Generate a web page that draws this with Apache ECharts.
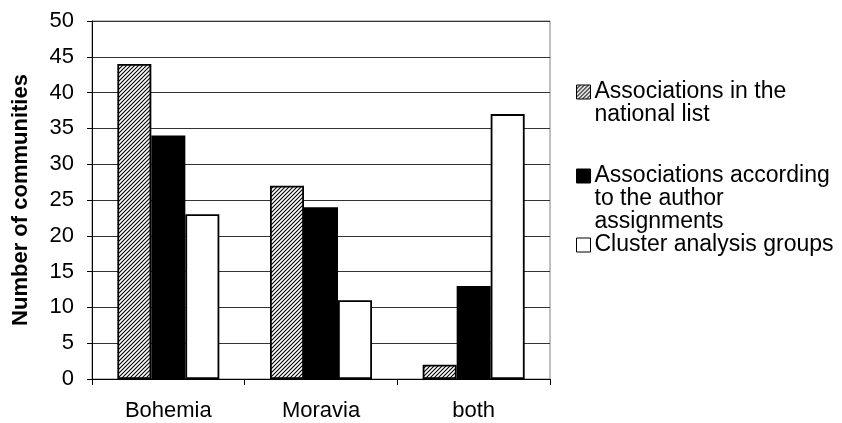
<!DOCTYPE html>
<html>
<head>
<meta charset="utf-8">
<script src="https://cdn.jsdelivr.net/npm/echarts@6/dist/echarts.min.js"></script>
<style>
  html, body { margin: 0; padding: 0; background: #fff; }
  #chart { width: 842px; height: 423px; }
</style>
</head>
<body>
<div id="chart"></div>
<script>
// Regions and community counts per grouping
const categories = ['Bohemia', 'Moravia', 'both'];
const nationalList = [44, 27, 2];
const authorAssignments = [34, 24, 13];
const clusterGroups = [23, 11, 37];
const seriesNames = [
  'Associations in the national list',
  'Associations according to the author assignments',
  'Cluster analysis groups'
];
// Legend wording split over lines
const legendLines = {
  'Associations in the national list': ['Associations in the', 'national list'],
  'Associations according to the author assignments': ['Associations according', 'to the author', 'assignments'],
  'Cluster analysis groups': ['Cluster analysis groups']
};

const FONT = 'Liberation Sans, Arial, sans-serif';

// Diagonal hatch fill
function makeHatch() {
  const c = document.createElement('canvas');
  c.width = 4; c.height = 4;
  const g = c.getContext('2d');
  g.fillStyle = '#ffffff';
  g.fillRect(0, 0, 4, 4);
  g.strokeStyle = '#000000';
  g.lineWidth = 1.1;
  g.beginPath();
  g.moveTo(-1, 5); g.lineTo(5, -1);
  g.moveTo(-1, 1); g.lineTo(1, -1);
  g.moveTo(3, 5); g.lineTo(5, 3);
  g.stroke();
  return c;
}
const hatch = { image: makeHatch(), repeat: 'repeat' };

const chart = echarts.init(document.getElementById('chart'), null, { renderer: 'canvas' });

const barBorder = { borderColor: '#000', borderWidth: 1.8 };

// Pad legend text with blank lines so the icon sits beside the first line
function legendText(name) {
  const lines = legendLines[name];
  const pad = new Array(lines.length - 1).fill('').join('\n');
  return (lines.length > 1 ? pad + '\n' : '') + lines.join('\n');
}

const LH = 23;
function legendFor(name, firstLineY) {
  const n = legendLines[name].length;
  const boxH = (2 * n - 1) * LH;
  return {
    data: [name],
    orient: 'vertical',
    left: 576,
    top: firstLineY - boxH / 2,
    padding: 0,
    itemWidth: 14,
    itemHeight: 14,
    itemGap: 0,
    icon: 'rect',
    itemStyle: { borderColor: '#000', borderWidth: 1 },
    formatter: legendText,
    textStyle: { fontFamily: FONT, fontSize: 23, color: '#000', lineHeight: LH, padding: [0, 0, 0, -1] }
  };
}

chart.setOption({
  animation: false,
  backgroundColor: '#ffffff',
  grid: { left: 92, right: 292, top: 21, bottom: 44, show: true, borderColor: '#808080', borderWidth: 1, backgroundColor: 'transparent' },
  legend: [
    legendFor(seriesNames[0], 92),
    legendFor(seriesNames[1], 176),
    legendFor(seriesNames[2], 245)
  ],
  xAxis: {
    type: 'category',
    data: categories,
    axisLine: { lineStyle: { color: '#000', width: 1 } },
    axisTick: { show: true, length: 6, lineStyle: { color: '#000' } },
    axisLabel: { fontFamily: FONT, fontSize: 22, color: '#000', margin: 21 },
    splitLine: { show: false }
  },
  yAxis: {
    type: 'value',
    min: 0,
    max: 50,
    interval: 5,
    name: 'Number of communities',
    nameLocation: 'middle',
    nameGap: 60,
    nameTextStyle: { fontFamily: FONT, fontSize: 22, fontWeight: 'bold', color: '#000' },
    axisLine: { show: true, lineStyle: { color: '#000', width: 1 } },
    axisTick: { show: true, length: 5, lineStyle: { color: '#000' } },
    axisLabel: { fontFamily: FONT, fontSize: 22, color: '#000', margin: 18 },
    splitLine: { show: true, lineStyle: { color: '#333', width: 1 } }
  },
  series: [
    {
      name: seriesNames[0], type: 'bar', data: nationalList,
      barWidth: 34, barGap: '0%',
      itemStyle: Object.assign({ color: hatch }, barBorder)
    },
    {
      name: seriesNames[1], type: 'bar', data: authorAssignments,
      barWidth: 34, barGap: '0%',
      itemStyle: Object.assign({ color: '#000' }, barBorder)
    },
    {
      name: seriesNames[2], type: 'bar', data: clusterGroups,
      barWidth: 34, barGap: '0%',
      itemStyle: Object.assign({ color: '#fff' }, barBorder)
    }
  ]
});
</script>
</body>
</html>
